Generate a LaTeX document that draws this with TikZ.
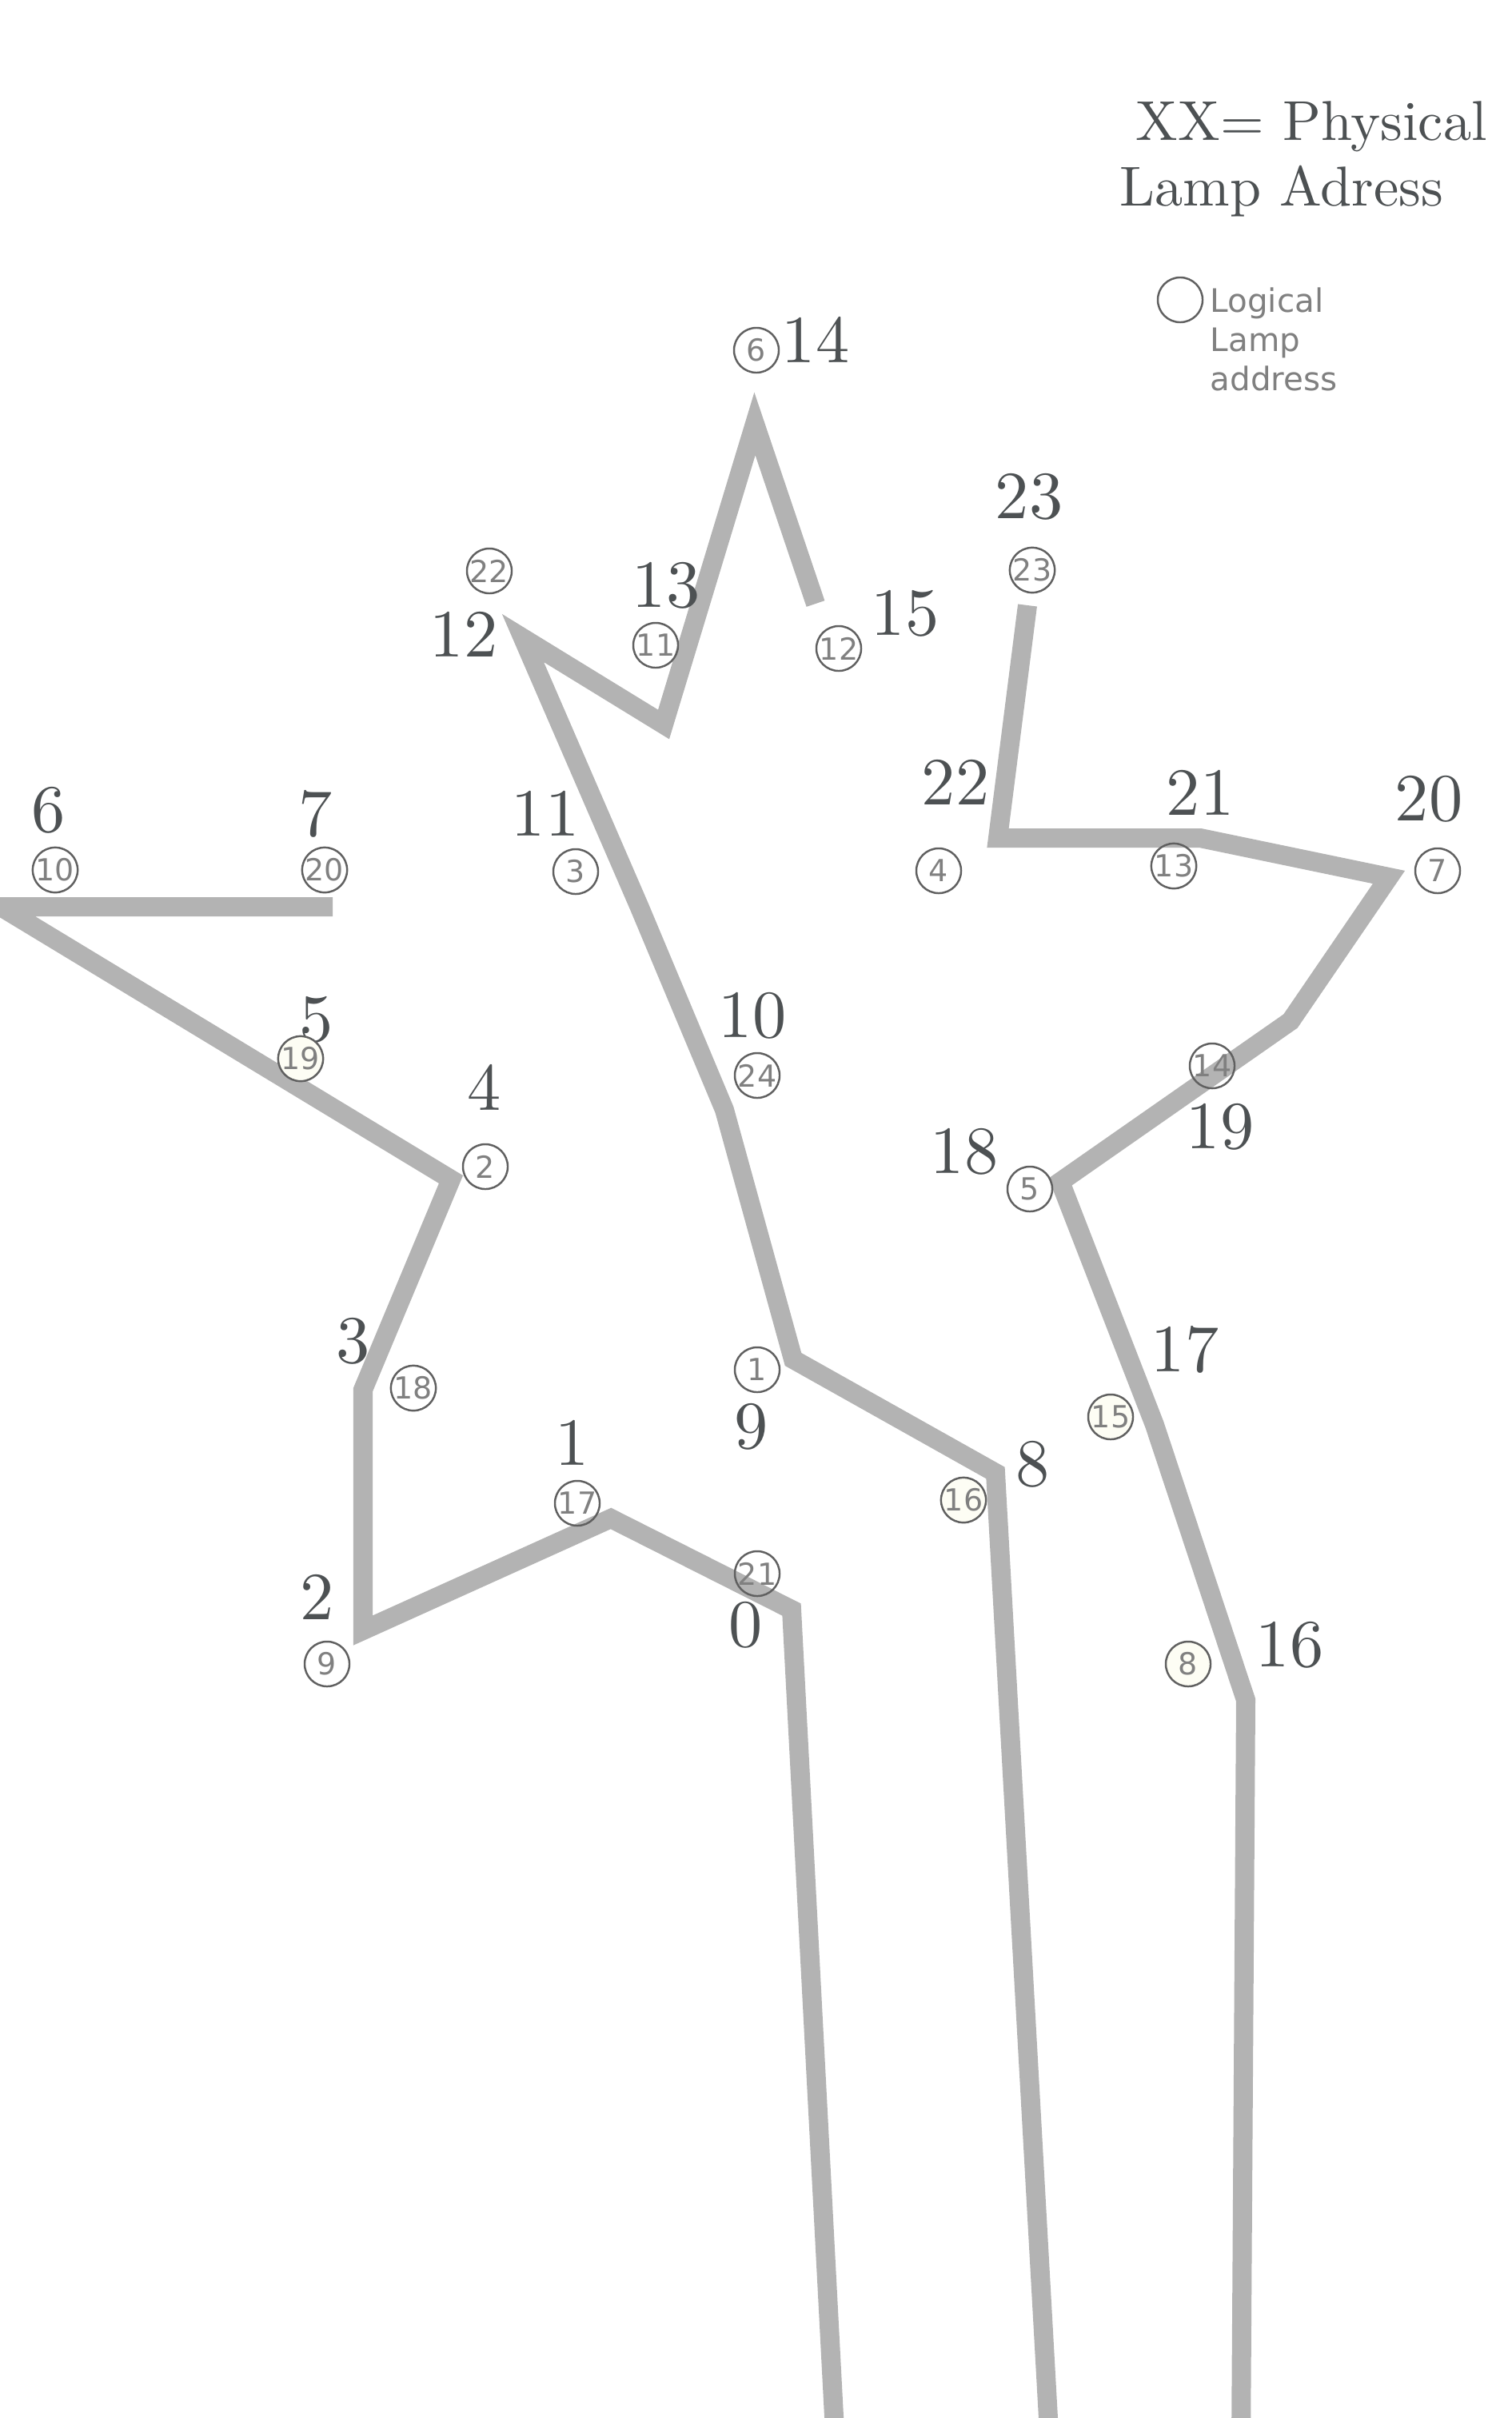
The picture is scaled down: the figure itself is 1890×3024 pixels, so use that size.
\documentclass[tikz,border=0pt]{standalone}
\usepackage{fontspec}
\newfontfamily\lampfont{DejaVu Sans}
\newfontfamily\physfont{lmroman10-regular.otf}
\definecolor{physgray}{RGB}{77,81,83}
\definecolor{logicgray}{RGB}{128,128,128}
\definecolor{ringgray}{RGB}{96,96,96}
\definecolor{wiregray}{RGB}{179,179,179}
\definecolor{lampfill}{RGB}{253,253,244}
\tikzset{
  wire/.style={line width=0.24cm, wiregray},
  phys/.style={anchor=base, inner sep=0, text=physgray, font=\physfont\fontsize{24}{28}\selectfont},
  logic/.style={circle, draw=ringgray, line width=0.7pt, minimum size=0.56cm, inner sep=0, text=logicgray, font=\lampfont\fontsize{10.8}{13}\selectfont},
  lit/.style={fill=lampfill}
}
\begin{document}
\begin{tikzpicture}[x=0.01cm, y=-0.01cm]
\useasboundingbox (0,0) rectangle (1890,3024);
% lamp positions
\coordinate (P0) at (990,2013);
\coordinate (P1) at (764,1899);
\coordinate (P2) at (454,2039);
\coordinate (P3) at (454,1738);
\coordinate (P4) at (564,1475);
\coordinate (P6) at (1,1134);
\coordinate (P7) at (416,1134);
\coordinate (P8) at (1245,1842);
\coordinate (P9) at (992,1700);
\coordinate (P10) at (906,1388);
\coordinate (P11) at (800,1135);
\coordinate (P12) at (654,798);
\coordinate (P13) at (830,906);
\coordinate (P14) at (944,530);
\coordinate (P15) at (1020,755);
\coordinate (P16) at (1558,2126);
\coordinate (P17) at (1444,1782);
\coordinate (P18) at (1326,1478);
\coordinate (P19) at (1614,1277);
\coordinate (P20) at (1737,1097);
\coordinate (P21) at (1501,1048);
\coordinate (P22) at (1248,1048);
\coordinate (P23) at (1285,757);
\coordinate (B0) at (1045,3060);
\coordinate (B8) at (1313,3060);
\coordinate (B16) at (1552,3060);
% strips
\draw[wire] (P7) -- (P6) -- (P4) -- (P3) -- (P2) -- (P1) -- (P0) -- (B0);
\draw[wire] (B8) -- (P8) -- (P9) -- (P10) -- (P11) -- (P12) -- (P13) -- (P14) -- (P15);
\draw[wire] (B16) -- (P16) -- (P17) -- (P18) -- (P19) -- (P20) -- (P21) -- (P22) -- (P23);
% physical addresses
\node[phys] (N0) at (933,2059) {0};
\node[phys] (N1) at (716,1832) {1};
\node[phys] (N2) at (397,2025) {2};
\node[phys] (N3) at (442,1704) {3};
\node[phys] (N4) at (606,1388) {4};
\node[phys] (N5) at (396,1302) {5};
\node[phys] (N6) at (61,1040) {6};
\node[phys] (N7) at (395,1045) {7};
\node[phys] (N8) at (1292,1858) {8};
\node[phys] (N9) at (940,1811) {9};
\node[phys] (N10) at (941,1297) {10};
\node[phys] (N11) at (682,1045) {11};
\node[phys] (N12) at (580,821) {12};
\node[phys] (N13) at (833,759) {13};
\node[phys] (N14) at (1020,453) {14};
\node[phys] (N15) at (1132,794) {15};
\node[phys] (N16) at (1613,2084) {16};
\node[phys] (N17) at (1482,1715) {17};
\node[phys] (N18) at (1206,1467) {18};
\node[phys] (N19) at (1526,1436) {19};
\node[phys] (N20) at (1787,1026) {20};
\node[phys] (N21) at (1501,1019) {21};
\node[phys] (N22) at (1195,1006) {22};
\node[phys] (N23) at (1287,648) {23};
% logical addresses
\node[logic] (L1) at (947,1713) {1};
\node[logic] (L2) at (607,1459) {2};
\node[logic] (L3) at (720,1090) {3};
\node[logic] (L4) at (1174,1089) {4};
\node[logic] (L5) at (1288,1487) {5};
\node[logic] (L6) at (946,438) {6};
\node[logic] (L7) at (1798,1089) {7};
\node[logic,lit] (L8) at (1486,2081) {8};
\node[logic] (L9) at (409,2081) {9};
\node[logic] (L10) at (69,1088) {10};
\node[logic] (L11) at (820,807) {11};
\node[logic] (L12) at (1049,811) {12};
\node[logic] (L13) at (1468,1083) {13};
\node[logic] (L14) at (1516,1333) {14};
\node[logic,lit] (L15) at (1389,1772) {15};
\node[logic,lit] (L16) at (1205,1876) {16};
\node[logic] (L17) at (722,1880) {17};
\node[logic] (L18) at (517,1736) {18};
\node[logic,lit] (L19) at (376,1324) {19};
\node[logic] (L20) at (406,1088) {20};
\node[logic] (L21) at (947,1968) {21};
\node[logic] (L22) at (612,714) {22};
\node[logic] (L23) at (1291,713) {23};
\node[logic] (L24) at (947,1345) {24};
% legend
\node[anchor=north west, inner sep=0, align=left, text=physgray, font=\physfont\fontsize{20}{23.3}\selectfont] (physkey) at (1400,126) {\hspace*{0.2cm}XX= Physical\\Lamp Adress};
\node[logic] (logickey) at (1476,375) {};
\node[anchor=north west, inner sep=0, align=left, text=logicgray, font=\lampfont\fontsize{11.5}{13.9}\selectfont] (logictext) at (1513,359) {Logical\\Lamp\\address};
\end{tikzpicture}
\end{document}
